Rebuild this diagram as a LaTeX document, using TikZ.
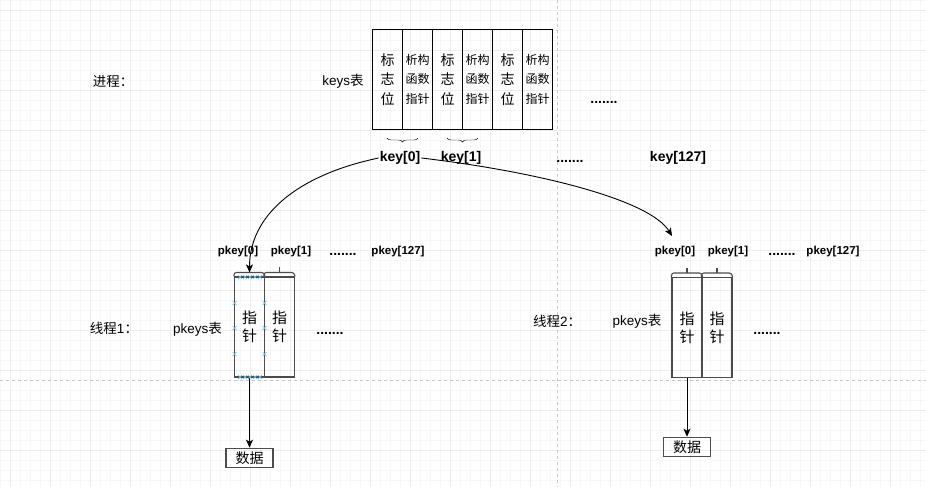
\documentclass[tikz,border=0pt]{standalone}
\usepackage{fontspec}
\setmainfont{Liberation Sans}
\newfontfamily\cjk{Noto Sans CJK SC}
\usetikzlibrary{arrows.meta,decorations.pathreplacing}

\tikzset{
  cell/.style={draw, line width=0.8pt, minimum width=30, minimum height=100, inner sep=0pt, align=center},
  flag/.style={cell, font=\fontsize{14}{19.5}\selectfont\cjk},
  dtor/.style={cell, font=\fontsize{12}{19.5}\selectfont\cjk},
  ptr/.style={draw=black!70, line width=1.1pt, minimum width=30, minimum height=100, inner sep=0pt, align=center, font=\fontsize{15}{18}\selectfont\cjk},
  lbl/.style={inner sep=1pt, font=\fontsize{13.5}{15}\selectfont},
  keylbl/.style={inner sep=1pt, font=\fontsize{14}{16}\selectfont\bfseries},
  pklbl/.style={inner sep=1pt, font=\fontsize{11.5}{13}\selectfont\bfseries},
  databox/.style={draw=black!70, line width=1.1pt, minimum width=47, minimum height=19.5, inner sep=0pt, font=\fontsize{14}{16}\selectfont\cjk},
  link/.style={line width=0.9pt, -{Stealth[length=8pt,width=7pt,inset=2pt]}},
  handle/.style={draw=cyan!80!blue!55, line width=0.7pt},
  tab/.style={draw=black!70, line width=1.1pt, rounded corners=2.5pt}
}
\newcommand\handlemark[1]{\draw[handle] #1 +(-2,-2) -- +(2,2) +(-2,2) -- +(2,-2);}
\newcommand\celltab[1]{\draw[tab] (#1.north west) -- ++(0,-4) -- ++(30,0) -- (#1.north east);}

\begin{document}
\begin{tikzpicture}[x=1pt,y=-1pt]
\useasboundingbox (0,0) rectangle (926,487);
\fill[white] (0,0) rectangle (926,487);
\draw[black!3, step=10pt] (0,487) grid (926,0);
\begin{scope}[shift={(10,10)}]
\draw[black!7, step=40pt] (-10,477) grid (916,-10);
\end{scope}
\draw[black!22, dash pattern=on 3pt off 3pt] (557,0) -- (557,487);
\draw[black!22, dash pattern=on 3pt off 3pt] (0,380) -- (926,380);

\node[lbl] (proc) at (113,81) {{\cjk 进程：}};
\node[lbl] (keystab) at (343,81) {keys{\cjk 表}};
\node[flag] (flag0) at (387.7,79.3) {标\\志\\位};
\node[dtor] (dtor0) at (417.7,79.3) {析构\\函数\\指针};
\node[flag] (flag1) at (447.7,79.3) {标\\志\\位};
\node[dtor] (dtor1) at (477.7,79.3) {析构\\函数\\指针};
\node[flag] (flag2) at (507.7,79.3) {标\\志\\位};
\node[dtor] (dtor2) at (537.7,79.3) {析构\\函数\\指针};
\node[keylbl] (topdots) at (604,102) {.......};
\draw[decorate, decoration={brace, amplitude=4pt, mirror}] (387,138) -- (418,138);
\draw[decorate, decoration={brace, amplitude=4pt, mirror}] (447,138) -- (478,138);
\node[keylbl] (key0) at (400,158) {key[0]};
\node[keylbl] (key1) at (461,158) {key[1]};
\node[keylbl] (keydots) at (570,161) {.......};
\node[keylbl] (key127) at (678,158) {key[127]};

\node[pklbl] (lpk0) at (238,252) {pkey[0]};
\node[pklbl] (lpk1) at (291,252) {pkey[1]};
\node[keylbl] (lpkdots) at (343,254) {.......};
\node[pklbl] (lpk127) at (398,252) {pkey[127]};
\node[lbl] (t1) at (114,328) {{\cjk 线程}1{\cjk ：}};
\node[lbl] (t1keys) at (197.5,329) {pkeys{\cjk 表}};
\node[ptr] (lp0) at (249.5,327) {指\\针};
\node[ptr] (lp1) at (279.5,327) {指\\针};
\celltab{lp0}
\celltab{lp1}
\draw[black!70, line width=1.1pt] (lp1.north) ++(0,-4) -- ++(0,-5);
\node[keylbl] (lpdots) at (330,333) {.......};
\node[databox] (data1) at (249.5,458) {数据};

\node[pklbl] (rpk0) at (675,252) {pkey[0]};
\node[pklbl] (rpk1) at (728,252) {pkey[1]};
\node[keylbl] (rpkdots) at (782,254) {.......};
\node[pklbl] (rpk127) at (833,252) {pkey[127]};
\node[lbl] (t2) at (557,321) {{\cjk 线程}2{\cjk ：}};
\node[lbl] (t2keys) at (637,321) {pkeys{\cjk 表}};
\node[ptr] (rp0) at (687,327.5) {指\\针};
\node[ptr] (rp1) at (717,327.5) {指\\针};
\celltab{rp0}
\celltab{rp1}
\draw[black!70, line width=1.1pt] (rp0.north) ++(0,-4) -- ++(0,-5);
\draw[black!70, line width=1.1pt] (rp1.north) ++(0,-4) -- ++(0,-5);
\node[keylbl] (rpdots) at (767,333) {.......};
\node[databox] (data2) at (687,447) {数据};

\path (lp0.north) ++(0,-4) coordinate (lp0top);
\coordinate (rtip) at (672,236);
\draw[link] (key0.west) .. controls +(-85,18) and +(0,-55) .. (lp0top);
\draw[link] (key0.east) .. controls +(118,14) and +(-22,-36) .. (rtip);
\draw[link] (lp0.south) -- (data1.north);
\draw[link] (rp0.south) -- (data2.north);

\handlemark{(240,277)}
\handlemark{(245,277)}
\handlemark{(250,277)}
\handlemark{(255,277)}
\handlemark{(260,277)}
\handlemark{(240,377)}
\handlemark{(245,377)}
\handlemark{(250,377)}
\handlemark{(255,377)}
\handlemark{(260,377)}
\handlemark{(234.5,303)}
\handlemark{(234.5,328)}
\handlemark{(234.5,354)}
\handlemark{(264.5,303)}
\handlemark{(264.5,328)}
\handlemark{(264.5,354)}
\end{tikzpicture}
\end{document}
